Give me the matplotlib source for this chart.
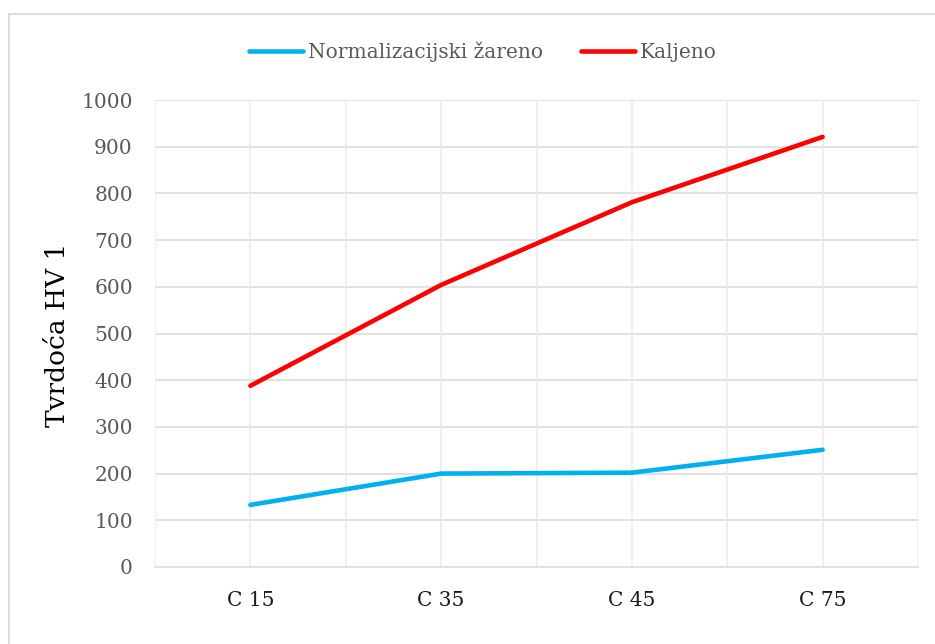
import numpy as np
import matplotlib
matplotlib.use("Agg")
import matplotlib.pyplot as plt
from matplotlib.lines import Line2D

# ── data ──────────────────────────────────────────────────────────────────────
steels     = ["C 15", "C 35", "C 45", "C 75"]
normalized = [133, 200, 202, 251]    # Normalizacijski žareno
quenched   = [388, 604, 781, 921]    # Kaljeno
y_ticks    = [0, 100, 200, 300, 400, 500, 600, 700, 800, 900, 1000]

W, H = 935, 644
plt.rcParams["font.family"] = ["DejaVu Serif"]
FS = 14.5

fig = plt.figure(figsize=(W / 100, H / 100), dpi=100)
fig.patch.set_facecolor("white")

# plot area in pixels: left 155, right 918, top 100, bottom 567
ax = fig.add_axes([155 / W, 1 - 567 / H, (918 - 155) / W, (567 - 100) / H])

x = np.arange(len(steels))
ax.plot(x, normalized, color="#00B0F0", lw=3.3, solid_capstyle="round",
        solid_joinstyle="round", zorder=3)
ax.plot(x, quenched, color="#FF0000", lw=3.3, solid_capstyle="round",
        solid_joinstyle="round", zorder=3)

ax.set_xlim(-0.5, len(steels) - 0.5)
ax.set_ylim(0, 1000)

# horizontal gridlines
for v in y_ticks[1:]:
    ax.axhline(v, color="#D9D9D9", lw=1.1, zorder=1)
# vertical gridlines every half category
for v in np.arange(-0.5, len(steels), 0.5):
    ax.axvline(v, color="#EBEBEB", lw=1.1, zorder=1)

for s in ["top", "right", "left"]:
    ax.spines[s].set_visible(False)
ax.spines["bottom"].set_color("#D9D9D9")
ax.spines["bottom"].set_linewidth(1.1)

ax.set_yticks(y_ticks)
ax.set_yticklabels([str(v) for v in y_ticks], fontsize=FS, color="#595959")
ax.set_xticks(x)
ax.set_xticklabels(steels, fontsize=FS, color="#1a1a1a")
ax.tick_params(axis="both", length=0)
ax.tick_params(axis="y", pad=16)
ax.tick_params(axis="x", pad=17)

ax.set_ylabel("Tvrdoća HV 1", fontsize=19, color="black")
ax.yaxis.set_label_coords(-0.111, 0.497)

# legend
handles = [Line2D([], [], color="#00B0F0", lw=3.3, solid_capstyle="round"),
           Line2D([], [], color="#FF0000", lw=3.3, solid_capstyle="round")]
leg = fig.legend(handles, ["Normalizacijski žareno", "Kaljeno"],
                 loc="center", bbox_to_anchor=(483 / W, 1 - 52 / H), ncol=2,
                 frameon=False, fontsize=FS, handlelength=2.7,
                 handletextpad=0.25, columnspacing=1.85)
for t in leg.get_texts():
    t.set_color("#595959")

# chart frame (top and left edges)
fig.add_artist(Line2D([8.5 / W, 935 / W], [1 - 13.5 / H, 1 - 13.5 / H],
                      color="#D9D9D9", lw=1.3, transform=fig.transFigure))
fig.add_artist(Line2D([8.5 / W, 8.5 / W], [1 - 13.5 / H, 0],
                      color="#D9D9D9", lw=1.3, transform=fig.transFigure))

fig.savefig("out.png", dpi=100, facecolor="white")
